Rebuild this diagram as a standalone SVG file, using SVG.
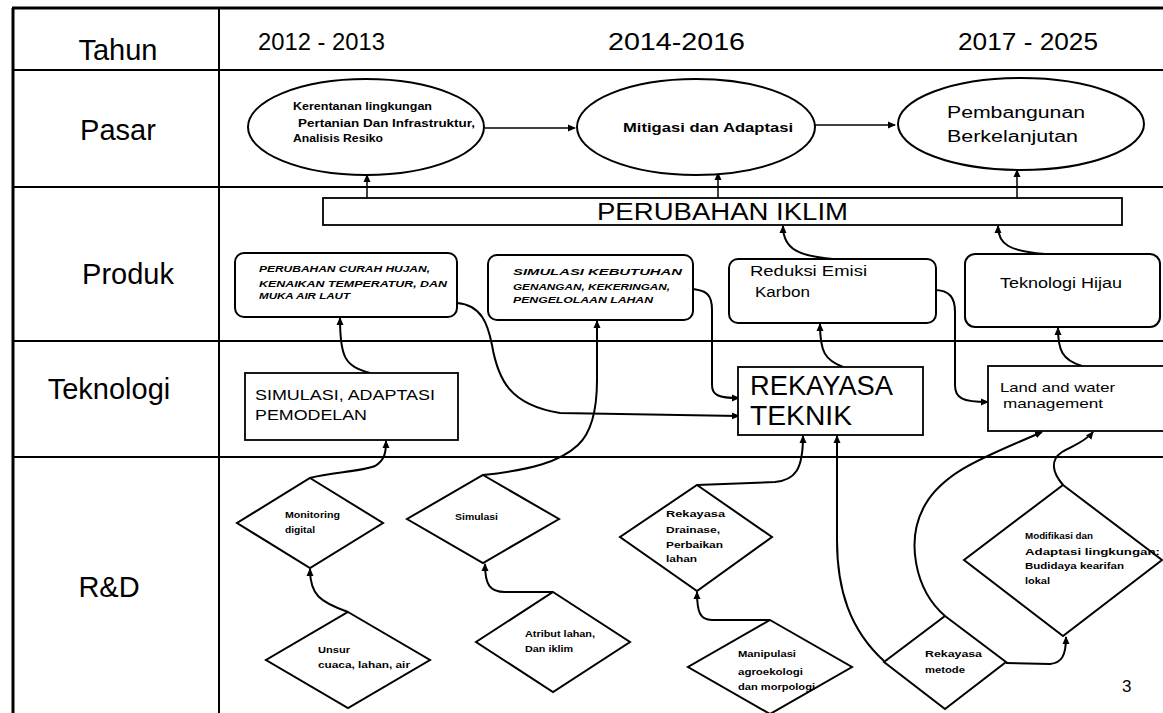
<svg xmlns="http://www.w3.org/2000/svg" width="1163" height="713" viewBox="0 0 1163 713">
<style>
text{font-family:"Liberation Sans",Arial,sans-serif;fill:#000}
.grid{stroke:#000;stroke-width:2;fill:none}
.lbl{font-size:29px;text-anchor:middle}
.yr{font-size:24px}
.ell{fill:#fff;stroke:#000;stroke-width:2}
.rbox{fill:#fff;stroke:#000;stroke-width:2}
.box{fill:#fff;stroke:#000;stroke-width:1.8}
.dia{fill:#fff;stroke:#000;stroke-width:2}
.s{font-size:10px;font-weight:bold}
.si{font-size:9px;font-weight:bold;font-style:italic}
.d{font-size:9px;font-weight:bold}
.c{fill:none;stroke:#000;stroke-width:2}
</style>
<defs>
<marker id="ah" markerWidth="8" markerHeight="8" refX="7" refY="4" orient="auto" markerUnits="userSpaceOnUse">
<path d="M0,0.5 L8,4 L0,7.5 Z" fill="#000"/>
</marker>
</defs>
<rect width="1163" height="713" fill="#fff"/>
<g id="grid">
<line class="grid" x1="12" y1="8" x2="1163" y2="8" style="stroke-width:3"/>
<line class="grid" x1="13" y1="8" x2="13" y2="713" style="stroke-width:3"/>
<line class="grid" x1="219" y1="8" x2="219" y2="713"/>
<line class="grid" x1="13" y1="70" x2="1163" y2="70"/>
<line class="grid" x1="13" y1="187" x2="1163" y2="187"/>
<line class="grid" x1="13" y1="341" x2="1163" y2="341"/>
<line class="grid" x1="13" y1="457" x2="1163" y2="457"/>
</g>
<g id="labels">
<text class="lbl" x="118" y="60" font-size="28">Tahun</text>
<text class="lbl" x="118" y="140">Pasar</text>
<text class="lbl" x="128" y="284" font-size="31">Produk</text>
<text class="lbl" x="109" y="399" font-size="31">Teknologi</text>
<text class="lbl" x="109" y="597">R&amp;D</text>
<text class="yr" x="258" y="50" textLength="127" lengthAdjust="spacingAndGlyphs">2012 - 2013</text>
<text class="yr" x="608" y="50" textLength="137" lengthAdjust="spacingAndGlyphs">2014-2016</text>
<text class="yr" x="958" y="50" textLength="140" lengthAdjust="spacingAndGlyphs">2017 - 2025</text>
<text x="1122" y="692" font-size="17">3</text>
</g>
<g id="connectors">
<path class="c" style="stroke-width:1.5" d="M485,128 L575,128" marker-end="url(#ah)"/>
<path class="c" style="stroke-width:1.5" d="M815,125 L895,125" marker-end="url(#ah)"/>
<path class="c" style="stroke-width:1.5" d="M367,198 L367,175" marker-end="url(#ah)"/>
<path class="c" style="stroke-width:1.5" d="M718,198 L718,173" marker-end="url(#ah)"/>
<path class="c" style="stroke-width:1.5" d="M1017,198 L1017,170" marker-end="url(#ah)"/>
<path class="c" d="M833,259 C800,256 783,250 783,226" marker-end="url(#ah)"/>
<path class="c" d="M1045,254 C1010,251 998,245 998,226" marker-end="url(#ah)"/>
<path class="c" d="M370,373 C345,366 340,358 340,318" marker-end="url(#ah)"/>
<path class="c" d="M457,303 C482,305 488,325 492,345 C498,380 510,405 560,413 L739,416" marker-end="url(#ah)"/>
<path class="c" d="M688,289 C708,289 712,296 712,310 L712,385 C712,395 718,398 739,398" marker-end="url(#ah)"/>
<path class="c" d="M483,475 C530,470 560,462 578,445 C592,432 597,410 597,380 L597,321" marker-end="url(#ah)"/>
<path class="c" d="M310,478 C330,472 360,472 375,466 C385,460 386,452 386,441" marker-end="url(#ah)"/>
<path class="c" d="M843,367 C825,360 820,352 820,324" marker-end="url(#ah)"/>
<path class="c" d="M934,290 C950,290 955,298 955,312 L955,385 C955,398 962,402 988,402" marker-end="url(#ah)"/>
<path class="c" d="M1082,366 C1062,360 1058,350 1058,328" marker-end="url(#ah)"/>
<path class="c" d="M697,485 L775,482 C795,480 803,470 803,436" marker-end="url(#ah)"/>
<path class="c" d="M884,661 C850,630 837,590 837,540 L837,436" marker-end="url(#ah)"/>
<path class="c" d="M945,616 C915,590 905,540 925,505 C945,470 990,455 1042,432" marker-end="url(#ah)"/>
<path class="c" d="M1063,485 C1052,472 1050,460 1062,452 C1072,446 1085,442 1093,432" marker-end="url(#ah)"/>
<path class="c" d="M1006,663 L1050,664 C1062,663 1066,655 1066,637" marker-end="url(#ah)"/>
<path class="c" d="M770,620 L712,620 C700,620 697,612 697,592" marker-end="url(#ah)"/>
<path class="c" d="M553,592 L505,592 C490,592 485,585 485,564" marker-end="url(#ah)"/>
<path class="c" d="M348,612 C320,602 310,595 310,569" marker-end="url(#ah)"/>
</g>
<g id="pasar1">
<ellipse class="ell" cx="366" cy="127" rx="118" ry="48"/>
<text class="s" x="293" y="110" textLength="139" lengthAdjust="spacingAndGlyphs">Kerentanan lingkungan</text>
<text class="s" x="298" y="127" textLength="177" lengthAdjust="spacingAndGlyphs">Pertanian Dan Infrastruktur,</text>
<text class="s" x="293" y="142" textLength="90" lengthAdjust="spacingAndGlyphs">Analisis Resiko</text>
</g>
<g id="pasar2">
<ellipse class="ell" cx="696" cy="127" rx="119" ry="48"/>
<text x="623" y="132" font-size="13" font-weight="bold" textLength="170" lengthAdjust="spacingAndGlyphs">Mitigasi dan Adaptasi</text>
</g>
<g id="pasar3">
<ellipse class="ell" cx="1021" cy="124" rx="123" ry="46"/>
<text x="947" y="118" font-size="16" textLength="138" lengthAdjust="spacingAndGlyphs">Pembangunan</text>
<text x="947" y="142" font-size="16" textLength="131" lengthAdjust="spacingAndGlyphs">Berkelanjutan</text>
</g>
<g id="perubahan">
<rect class="box" x="323" y="198" width="799" height="27"/>
<text x="597" y="220" font-size="23" textLength="251" lengthAdjust="spacingAndGlyphs">PERUBAHAN IKLIM</text>
</g>
<g id="produk1">
<rect class="rbox" x="235" y="253" width="222" height="64" rx="9"/>
<text class="si" x="259" y="272" textLength="171" lengthAdjust="spacingAndGlyphs">PERUBAHAN CURAH HUJAN,</text>
<text class="si" x="259" y="287" textLength="188" lengthAdjust="spacingAndGlyphs">KENAIKAN TEMPERATUR, DAN</text>
<text class="si" x="259" y="299" textLength="91" lengthAdjust="spacingAndGlyphs">MUKA AIR LAUT</text>
</g>
<g id="produk2">
<rect class="rbox" x="488" y="255" width="205" height="65" rx="9"/>
<text class="si" x="513" y="275" textLength="169" lengthAdjust="spacingAndGlyphs">SIMULASI KEBUTUHAN</text>
<text class="si" x="513" y="290" textLength="157" lengthAdjust="spacingAndGlyphs">GENANGAN, KEKERINGAN,</text>
<text class="si" x="513" y="303" textLength="140" lengthAdjust="spacingAndGlyphs">PENGELOLAAN LAHAN</text>
</g>
<g id="produk3">
<rect class="rbox" x="729" y="259" width="207" height="64" rx="9"/>
<text x="750" y="276" font-size="14" textLength="117" lengthAdjust="spacingAndGlyphs">Reduksi Emisi</text>
<text x="755" y="297" font-size="14" textLength="55" lengthAdjust="spacingAndGlyphs">Karbon</text>
</g>
<g id="produk4">
<rect class="rbox" x="965" y="254" width="195" height="73" rx="10"/>
<text x="1000" y="288" font-size="14" textLength="122" lengthAdjust="spacingAndGlyphs">Teknologi Hijau</text>
</g>
<g id="tek1">
<rect class="box" x="245" y="373" width="213" height="67"/>
<text x="255" y="400" font-size="14" textLength="180" lengthAdjust="spacingAndGlyphs">SIMULASI, ADAPTASI</text>
<text x="255" y="420" font-size="14" textLength="112" lengthAdjust="spacingAndGlyphs">PEMODELAN</text>
</g>
<g id="tek2">
<rect class="box" x="738" y="367" width="185" height="68"/>
<text x="750" y="395" font-size="27" textLength="143" lengthAdjust="spacingAndGlyphs">REKAYASA</text>
<text x="750" y="425" font-size="27" textLength="102" lengthAdjust="spacingAndGlyphs">TEKNIK</text>
</g>
<g id="tek3">
<rect class="box" x="988" y="366" width="180" height="65"/>
<text x="1000" y="392" font-size="13" textLength="115" lengthAdjust="spacingAndGlyphs">Land and water</text>
<text x="1003" y="408" font-size="13" textLength="100" lengthAdjust="spacingAndGlyphs">management</text>
</g>
<g id="rd1">
<polygon class="dia" points="310,478 383,523 310,568 237,523"/>
<text class="d" x="285" y="518" textLength="55" lengthAdjust="spacingAndGlyphs">Monitoring</text>
<text class="d" x="285" y="533" textLength="30" lengthAdjust="spacingAndGlyphs">digital</text>
</g>
<g id="rd2">
<polygon class="dia" points="483,475 559,519 483,563 407,519"/>
<text class="d" x="455" y="520" textLength="43" lengthAdjust="spacingAndGlyphs">Simulasi</text>
</g>
<g id="rd3">
<polygon class="dia" points="697,485 772,537 697,591 620,537"/>
<text class="d" x="666" y="517" textLength="59" lengthAdjust="spacingAndGlyphs">Rekayasa</text>
<text class="d" x="666" y="533" textLength="54" lengthAdjust="spacingAndGlyphs">Drainase,</text>
<text class="d" x="666" y="548" textLength="57" lengthAdjust="spacingAndGlyphs">Perbaikan</text>
<text class="d" x="666" y="562" textLength="31" lengthAdjust="spacingAndGlyphs">lahan</text>
</g>
<g id="rd4">
<polygon class="dia" points="348,612 430,660 348,708 266,660"/>
<text class="d" x="318" y="653" textLength="32" lengthAdjust="spacingAndGlyphs">Unsur</text>
<text class="d" x="318" y="668" textLength="92" lengthAdjust="spacingAndGlyphs">cuaca, lahan, air</text>
</g>
<g id="rd5">
<polygon class="dia" points="553,592 630,642 553,692 476,642"/>
<text class="d" x="525" y="637" textLength="70" lengthAdjust="spacingAndGlyphs">Atribut lahan,</text>
<text class="d" x="525" y="652" textLength="48" lengthAdjust="spacingAndGlyphs">Dan iklim</text>
</g>
<g id="rd6">
<polygon class="dia" points="770,620 852,667 770,714 688,667"/>
<text class="d" x="738" y="657" textLength="58" lengthAdjust="spacingAndGlyphs">Manipulasi</text>
<text class="d" x="738" y="675" textLength="65" lengthAdjust="spacingAndGlyphs">agroekologi</text>
<text class="d" x="738" y="690" textLength="77" lengthAdjust="spacingAndGlyphs">dan morpologi</text>
</g>
<g id="rd7">
<polygon class="dia" points="945,616 1006,662 945,709 884,662"/>
<text class="d" x="925" y="657" textLength="57" lengthAdjust="spacingAndGlyphs">Rekayasa</text>
<text class="d" x="925" y="673" textLength="40" lengthAdjust="spacingAndGlyphs">metode</text>
</g>
<g id="rd8">
<polygon class="dia" points="1063,485 1162,560 1063,636 964,560"/>
<text class="d" x="1025" y="539" textLength="68" lengthAdjust="spacingAndGlyphs">Modifikasi dan</text>
<text class="d" x="1025" y="555" textLength="135" lengthAdjust="spacingAndGlyphs">Adaptasi lingkungan:</text>
<text class="d" x="1025" y="569" textLength="99" lengthAdjust="spacingAndGlyphs">Budidaya kearifan</text>
<text class="d" x="1025" y="584" textLength="25" lengthAdjust="spacingAndGlyphs">lokal</text>
</g>
</svg>
